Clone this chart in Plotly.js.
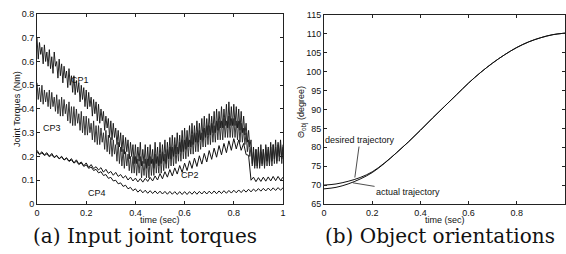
<!DOCTYPE html>
<html>
<head>
<meta charset="utf-8">
<script src="https://cdn.plot.ly/plotly-3.0.1.min.js"></script>
<style>html,body{margin:0;padding:0;background:#fff;}#chart{width:566px;height:254px;}</style>
</head>
<body>
<div id="chart"></div>
<script>
// coarse time samples (sec), step 0.01
const timeCoarse = [0,0.01,0.02,0.03,0.04,0.05,0.06,0.07,0.08,0.09,0.1,0.11,0.12,0.13,0.14,0.15,0.16,0.17,0.18,0.19,0.2,0.21,0.22,0.23,0.24,0.25,0.26,0.27,0.28,0.29,0.3,0.31,0.32,0.33,0.34,0.35,0.36,0.37,0.38,0.39,0.4,0.41,0.42,0.43,0.44,0.45,0.46,0.47,0.48,0.49,0.5,0.51,0.52,0.53,0.54,0.55,0.56,0.57,0.58,0.59,0.6,0.61,0.62,0.63,0.64,0.65,0.66,0.67,0.68,0.69,0.7,0.71,0.72,0.73,0.74,0.75,0.76,0.77,0.78,0.79,0.8,0.81,0.82,0.83,0.84,0.85,0.86,0.87,0.88,0.89,0.9,0.91,0.92,0.93,0.94,0.95,0.96,0.97,0.98,0.99,1];

// fine time samples (sec), step 0.005
const timeFine = [0,0.005,0.01,0.015,0.02,0.025,0.03,0.035,0.04,0.045,
0.05,0.055,0.06,0.065,0.07,0.075,0.08,0.085,0.09,0.095,
0.1,0.105,0.11,0.115,0.12,0.125,0.13,0.135,0.14,0.145,
0.15,0.155,0.16,0.165,0.17,0.175,0.18,0.185,0.19,0.195,
0.2,0.205,0.21,0.215,0.22,0.225,0.23,0.235,0.24,0.245,
0.25,0.255,0.26,0.265,0.27,0.275,0.28,0.285,0.29,0.295,
0.3,0.305,0.31,0.315,0.32,0.325,0.33,0.335,0.34,0.345,
0.35,0.355,0.36,0.365,0.37,0.375,0.38,0.385,0.39,0.395,
0.4,0.405,0.41,0.415,0.42,0.425,0.43,0.435,0.44,0.445,
0.45,0.455,0.46,0.465,0.47,0.475,0.48,0.485,0.49,0.495,
0.5,0.505,0.51,0.515,0.52,0.525,0.53,0.535,0.54,0.545,
0.55,0.555,0.56,0.565,0.57,0.575,0.58,0.585,0.59,0.595,
0.6,0.605,0.61,0.615,0.62,0.625,0.63,0.635,0.64,0.645,
0.65,0.655,0.66,0.665,0.67,0.675,0.68,0.685,0.69,0.695,
0.7,0.705,0.71,0.715,0.72,0.725,0.73,0.735,0.74,0.745,
0.75,0.755,0.76,0.765,0.77,0.775,0.78,0.785,0.79,0.795,
0.8,0.805,0.81,0.815,0.82,0.825,0.83,0.835,0.84,0.845,
0.85,0.855,0.86,0.865,0.87,0.875,0.88,0.885,0.89,0.895,
0.9,0.905,0.91,0.915,0.92,0.925,0.93,0.935,0.94,0.945,
0.95,0.955,0.96,0.965,0.97,0.975,0.98,0.985,0.99,0.995,1];

const cp1 = [0.70,0.61,0.68,0.63,0.66,0.59,0.67,0.60,0.64,0.58,
0.65,0.57,0.62,0.55,0.64,0.58,0.60,0.53,0.61,0.54,
0.59,0.51,0.58,0.53,0.56,0.49,0.57,0.50,0.54,0.47,
0.54,0.46,0.52,0.47,0.51,0.43,0.50,0.44,0.49,0.41,
0.48,0.40,0.47,0.41,0.45,0.37,0.44,0.38,0.43,0.35,
0.42,0.34,0.40,0.35,0.39,0.31,0.37,0.32,0.36,0.28,
0.35,0.27,0.34,0.28,0.32,0.25,0.31,0.24,0.30,0.22,
0.29,0.21,0.28,0.22,0.27,0.19,0.26,0.20,0.25,0.17,
0.25,0.17,0.24,0.18,0.26,0.16,0.23,0.17,0.25,0.15,
0.24,0.16,0.25,0.17,0.23,0.15,0.26,0.17,0.24,0.16,
0.26,0.17,0.25,0.18,0.27,0.17,0.26,0.19,0.28,0.19,
0.29,0.20,0.28,0.21,0.30,0.21,0.29,0.22,0.31,0.22,
0.32,0.23,0.31,0.24,0.33,0.24,0.34,0.25,0.33,0.26,
0.35,0.26,0.34,0.27,0.36,0.27,0.37,0.28,0.36,0.29,
0.38,0.29,0.37,0.30,0.39,0.30,0.40,0.31,0.39,0.32,
0.41,0.32,0.40,0.33,0.42,0.32,0.43,0.33,0.41,0.33,
0.42,0.33,0.41,0.32,0.40,0.31,0.39,0.30,0.37,0.29,
0.34,0.26,0.31,0.24,0.27,0.17,0.24,0.16,0.23,0.16,
0.24,0.16,0.25,0.17,0.23,0.16,0.25,0.18,0.24,0.17,
0.26,0.18,0.25,0.19,0.27,0.18,0.26,0.20,0.27,0.19,0.25];

const cp3 = [0.51,0.44,0.49,0.43,0.50,0.42,0.48,0.43,0.47,0.41,
0.48,0.40,0.47,0.41,0.45,0.39,0.46,0.38,0.44,0.37,
0.45,0.37,0.44,0.38,0.42,0.35,0.43,0.34,0.41,0.33,
0.41,0.33,0.40,0.34,0.38,0.31,0.39,0.30,0.37,0.29,
0.37,0.29,0.36,0.30,0.34,0.27,0.35,0.26,0.33,0.25,
0.33,0.25,0.32,0.26,0.30,0.23,0.31,0.22,0.29,0.21,
0.28,0.20,0.27,0.21,0.25,0.18,0.26,0.17,0.24,0.16,
0.23,0.15,0.22,0.16,0.21,0.14,0.20,0.13,0.20,0.13,
0.20,0.12,0.19,0.13,0.20,0.11,0.18,0.12,0.19,0.11,
0.19,0.11,0.20,0.12,0.19,0.12,0.21,0.13,0.20,0.13,
0.21,0.13,0.22,0.14,0.21,0.15,0.23,0.15,0.24,0.16,
0.24,0.16,0.25,0.17,0.24,0.18,0.26,0.18,0.27,0.19,
0.27,0.19,0.28,0.20,0.27,0.21,0.29,0.21,0.30,0.22,
0.30,0.22,0.31,0.23,0.30,0.24,0.32,0.24,0.33,0.25,
0.33,0.25,0.34,0.26,0.33,0.26,0.35,0.27,0.35,0.27,
0.35,0.27,0.36,0.28,0.35,0.28,0.37,0.28,0.36,0.28,
0.36,0.28,0.35,0.27,0.35,0.26,0.34,0.26,0.32,0.25,
0.30,0.22,0.27,0.20,0.24,0.16,0.22,0.15,0.23,0.15,
0.23,0.15,0.22,0.16,0.23,0.15,0.24,0.16,0.23,0.16,
0.24,0.16,0.25,0.17,0.24,0.17,0.25,0.18,0.25,0.17,0.24];

const cp2 = [0.226,0.21,0.22,0.207,0.216,0.201,0.213,0.197,0.205,0.191,0.201,0.186,0.195,0.181,0.191,0.173,0.186,0.169,0.177,0.161,0.173,0.154,0.166,0.149,0.157,0.143,0.153,0.134,0.146,0.129,0.137,0.121,0.133,0.116,0.124,0.109,0.119,0.101,0.113,0.097,0.109,0.093,0.107,0.092,0.108,0.095,0.112,0.097,0.118,0.101,0.128,0.106,0.136,0.113,0.145,0.118,0.152,0.126,0.162,0.133,0.172,0.141,0.182,0.15,0.193,0.158,0.203,0.168,0.213,0.177,0.225,0.188,0.235,0.197,0.246,0.207,0.255,0.216,0.266,0.226,0.275,0.232,0.27,0.226,0.255,0.208,0.205,0.10,0.113,0.094,0.111,0.095,0.113,0.096,0.114,0.097,0.116,0.098,0.116,0.099,0.113];

const cp4 = [0.218,0.208,0.215,0.204,0.211,0.199,0.207,0.195,0.203,0.19,0.198,0.185,0.192,0.179,0.186,0.172,0.18,0.166,0.173,0.158,0.165,0.15,0.156,0.141,0.146,0.131,0.136,0.12,0.124,0.108,0.112,0.097,0.1,0.085,0.089,0.074,0.079,0.064,0.07,0.056,0.064,0.05,0.06,0.047,0.058,0.045,0.056,0.044,0.055,0.043,0.054,0.042,0.053,0.041,0.053,0.041,0.052,0.04,0.052,0.04,0.052,0.04,0.052,0.041,0.053,0.041,0.053,0.042,0.054,0.042,0.054,0.043,0.055,0.043,0.055,0.044,0.056,0.045,0.057,0.046,0.058,0.047,0.059,0.048,0.06,0.05,0.062,0.051,0.063,0.053,0.065,0.054,0.066,0.055,0.067,0.056,0.068,0.057,0.069,0.058,0.068];

// orientation panel, step 0.05
const orientTime = [0,0.05,0.1,0.15,0.2,0.25,0.3,0.35,0.4,0.45,0.5,0.55,0.6,0.65,0.7,0.75,0.8,0.85,0.9,0.95,1];
const desired = [70.0,70.3,71.0,72.0,73.5,75.8,78.5,81.4,84.5,87.7,90.8,93.9,97.0,99.8,102.3,104.5,106.4,107.9,109.0,109.8,110.2];
const actual  = [69.0,69.4,70.3,71.6,73.3,75.7,78.5,81.4,84.5,87.7,90.8,93.9,97.0,99.8,102.3,104.5,106.4,107.9,109.0,109.8,110.2];

const leftYTicks = [0,0.1,0.2,0.3,0.4,0.5,0.6,0.7,0.8];
const xTicks = [0,0.2,0.4,0.6,0.8,1];
const xTickText = ['0','0.2','0.4','0.6','0.8','1'];
const rightYTicks = [65,70,75,80,85,90,95,100,105,110,115];

const traces = [
  {x:timeFine, y:cp1, type:'scatter', mode:'lines', line:{color:'#111', width:0.9}, xaxis:'x', yaxis:'y', name:'CP1'},
  {x:timeFine, y:cp3, type:'scatter', mode:'lines', line:{color:'#222', width:0.9}, xaxis:'x', yaxis:'y', name:'CP3'},
  {x:timeCoarse, y:cp2, type:'scatter', mode:'lines', line:{color:'#111', width:1}, xaxis:'x', yaxis:'y', name:'CP2'},
  {x:timeCoarse, y:cp4, type:'scatter', mode:'lines', line:{color:'#111', width:1}, xaxis:'x', yaxis:'y', name:'CP4'},
  {x:orientTime, y:desired, type:'scatter', mode:'lines', line:{color:'#111', width:1, shape:'spline'}, xaxis:'x2', yaxis:'y2', name:'desired'},
  {x:orientTime, y:actual, type:'scatter', mode:'lines', line:{color:'#111', width:1, shape:'spline'}, xaxis:'x2', yaxis:'y2', name:'actual'}
];

const tickFont = {family:'Liberation Sans, Arial, sans-serif', size:9, color:'#111'};
const axisBase = {
  showgrid:false, zeroline:false, showline:true, linecolor:'#222', linewidth:1,
  mirror:'ticks', ticks:'inside', ticklen:3, tickcolor:'#222', tickfont:tickFont
};
const serif = {family:'DejaVu Serif, serif', size:20, color:'#111'};

const layout = {
  width:566, height:254, margin:{l:0,r:0,t:0,b:0},
  paper_bgcolor:'#fff', plot_bgcolor:'#fff', showlegend:false,
  xaxis: Object.assign({}, axisBase, {domain:[0.0654,0.5], range:[0,1], tickvals:xTicks, ticktext:xTickText, anchor:'y'}),
  yaxis: Object.assign({}, axisBase, {domain:[0.1969,0.9449], range:[0,0.8], tickvals:leftYTicks, anchor:'x'}),
  xaxis2: Object.assign({}, axisBase, {domain:[0.5724,0.9982], range:[0,1], tickvals:xTicks, ticktext:xTickText, anchor:'y2'}),
  yaxis2: Object.assign({}, axisBase, {domain:[0.1969,0.941], range:[65,115], tickvals:rightYTicks, anchor:'x2'}),
  annotations:[
    {xref:'x', yref:'y', x:0.175, y:0.52, text:'CP1', showarrow:false, font:tickFont},
    {xref:'x', yref:'y', x:0.06, y:0.32, text:'CP3', showarrow:false, font:tickFont},
    {xref:'x', yref:'y', x:0.62, y:0.12, text:'CP2', showarrow:false, font:tickFont},
    {xref:'x', yref:'y', x:0.245, y:0.045, text:'CP4', showarrow:false, font:tickFont},
    {xref:'x2', yref:'y2', x:0.128, y:72.0, axref:'x2', ayref:'y2', ax:0.149, ay:81.9, text:'desired trajectory',
      showarrow:true, arrowhead:0, arrowwidth:0.8, arrowcolor:'#222', font:tickFont},
    {xref:'x2', yref:'y2', x:0.12, y:70.6, axref:'x2', ayref:'y2', ax:0.349, ay:68.2, text:'actual trajectory',
      showarrow:true, arrowhead:0, arrowwidth:0.8, arrowcolor:'#222', font:tickFont},
    {xref:'paper', yref:'paper', x:160/566, y:(254-220)/254, xanchor:'center', yanchor:'middle', text:'time (sec)', showarrow:false, font:tickFont},
    {xref:'paper', yref:'paper', x:445/566, y:(254-220)/254, xanchor:'center', yanchor:'middle', text:'time (sec)', showarrow:false, font:tickFont},
    {xref:'paper', yref:'paper', x:17/566, y:(254-109)/254, xanchor:'center', yanchor:'middle', textangle:-90, text:'Joint Torques (Nm)', showarrow:false, font:tickFont},
    {xref:'paper', yref:'paper', x:302/566, y:(254-112)/254, xanchor:'center', yanchor:'middle', textangle:-90, text:'Θ<sub>obj</sub> (degree)', showarrow:false, font:tickFont},
    {xref:'paper', yref:'paper', x:145/566, y:(254-236)/254, xanchor:'center', yanchor:'middle', text:'(a) Input joint torques', showarrow:false, font:serif},
    {xref:'paper', yref:'paper', x:440/566, y:(254-236)/254, xanchor:'center', yanchor:'middle', text:'(b) Object orientations', showarrow:false, font:serif}
  ]
};

Plotly.newPlot('chart', traces, layout, {staticPlot:true, displayModeBar:false});
</script>
</body>
</html>
